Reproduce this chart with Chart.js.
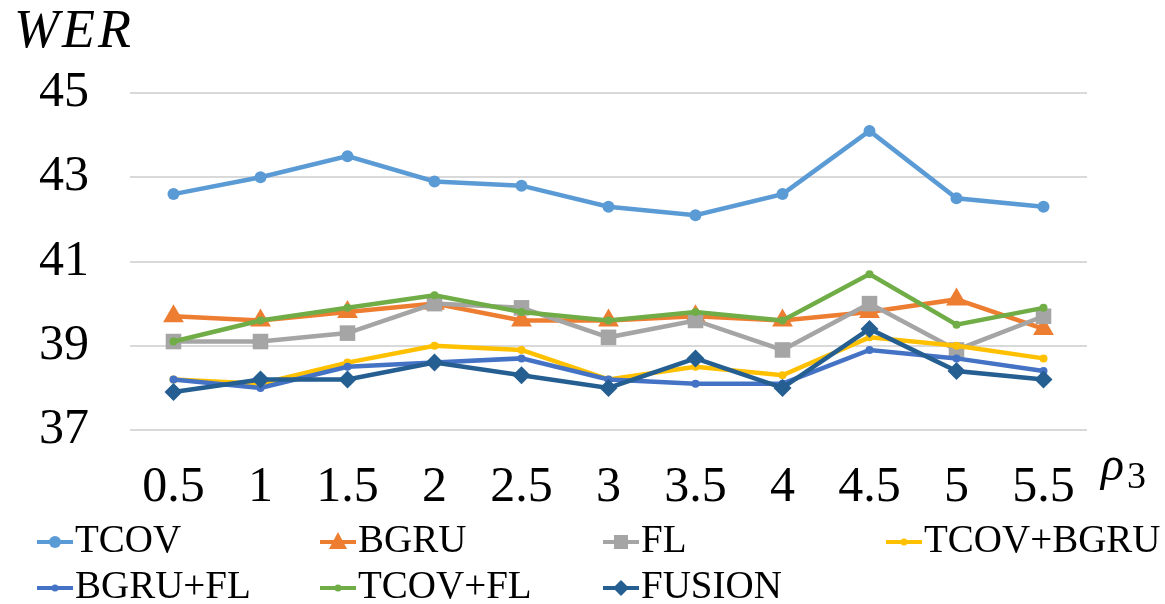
<!DOCTYPE html>
<html>
<head>
<meta charset="utf-8">
<script src="https://cdn.jsdelivr.net/npm/chart.js@4"></script>
<style>
  body { margin: 0; background: #fff; }
  #wrap { position: relative; width: 1165px; height: 604px; font-family: "Liberation Serif", "Times New Roman", serif; color: #000; }
  #wer { position: absolute; left: 14px; top: 2px; font-size: 54px; line-height: 1; font-style: italic; letter-spacing: 3px; }
  #rho { position: absolute; left: 1101px; top: 440px; font-size: 48px; line-height: 1; font-style: italic; }
  #rhoSub { position: absolute; left: 1127px; top: 456px; font-size: 38px; line-height: 1; }
  .item { position: absolute; display: flex; align-items: center; font-size: 39px; line-height: 1; white-space: nowrap; }
  .item svg { margin-top: 6px; margin-right: 2px; }
</style>
</head>
<body>
<div id="wrap">
  <canvas id="wer-chart" width="1165" height="604"></canvas>
  <div id="wer">WER</div>
  <div id="rho">ρ</div>
  <div id="rhoSub">3</div>
  <div id="legend"></div>
</div>
<script>
// x axis: rho_3 values
var rhoLabels = ['0.5', '1', '1.5', '2', '2.5', '3', '3.5', '4', '4.5', '5', '5.5'];

// WER per method
var tcov     = [42.6, 43.0, 43.5, 42.9, 42.8, 42.3, 42.1, 42.6, 44.1, 42.5, 42.3];
var bgru     = [39.7, 39.6, 39.8, 40.0, 39.6, 39.6, 39.7, 39.6, 39.8, 40.1, 39.4];
var fl       = [39.1, 39.1, 39.3, 40.0, 39.9, 39.2, 39.6, 38.9, 40.0, 38.9, 39.7];
var tcovBgru = [38.2, 38.1, 38.6, 39.0, 38.9, 38.2, 38.5, 38.3, 39.2, 39.0, 38.7];
var bgruFl   = [38.2, 38.0, 38.5, 38.6, 38.7, 38.2, 38.1, 38.1, 38.9, 38.7, 38.4];
var tcovFl   = [39.1, 39.6, 39.9, 40.2, 39.8, 39.6, 39.8, 39.6, 40.7, 39.5, 39.9];
var fusion   = [37.9, 38.2, 38.2, 38.6, 38.3, 38.0, 38.7, 38.0, 39.4, 38.4, 38.2];

var yTicks = [37, 39, 41, 43, 45];

var series = [
  { label: 'TCOV',      data: tcov,     color: '#5B9BD5', style: 'circle',   radius: 6 },
  { label: 'BGRU',      data: bgru,     color: '#ED7D31', style: 'triangle', radius: 12 },
  { label: 'FL',        data: fl,       color: '#A5A5A5', style: 'rect',     radius: 11 },
  { label: 'TCOV+BGRU', data: tcovBgru, color: '#FFC000', style: 'circle',   radius: 4 },
  { label: 'BGRU+FL',   data: bgruFl,   color: '#4472C4', style: 'circle',   radius: 4 },
  { label: 'TCOV+FL',   data: tcovFl,   color: '#70AD47', style: 'circle',   radius: 4 },
  { label: 'FUSION',    data: fusion,   color: '#255E91', style: 'rectRot',  radius: 9 }
];

var datasets = series.map(function(s, i) {
  return {
    label: s.label,
    data: s.data,
    borderColor: s.color,
    backgroundColor: s.color,
    borderWidth: 4.5,
    pointStyle: s.style,
    pointRadius: s.radius,
    pointBorderWidth: 0,
    tension: 0,
    order: series.length - i   // later series on top, like the original
  };
});

var ctx = document.getElementById('wer-chart').getContext('2d');
var werChart = new Chart(ctx, {
  type: 'line',
  data: { labels: rhoLabels, datasets: datasets },
  options: {
    responsive: false,
    animation: false,
    devicePixelRatio: 1,
    layout: { padding: { top: 93, right: 78, bottom: 94, left: 0 } },
    plugins: { legend: { display: false }, tooltip: { enabled: false } },
    scales: {
      x: {
        offset: true,
        grid: { display: false, offset: true },
        border: { display: false },
        ticks: { color: '#000', padding: 20, font: { family: 'Liberation Serif', size: 50 } },
        afterFit: function(scale) { scale.height = 80; }
      },
      y: {
        min: 37,
        max: 45,
        afterBuildTicks: function(scale) {
          scale.ticks = yTicks.map(function(v) { return { value: v }; });
        },
        grid: { color: '#d9d9d9', lineWidth: 2, drawTicks: false },
        border: { display: false },
        ticks: { color: '#000', padding: 41, font: { family: 'Liberation Serif', size: 50 } },
        afterFit: function(scale) { scale.width = 130; }
      }
    }
  }
});

//Legend laid out in a grid like the original
function markerSvg(s) {
  var c = s.color, shape = '';
  if (s.style === 'circle') {
    var r = s.radius > 5 ? 6 : 3.5;
    shape = '<circle cx="18" cy="10" r="' + r + '" fill="' + c + '"/>';
  } else if (s.style === 'triangle') {
    shape = '<polygon points="18,0 27,17 9,17" fill="' + c + '"/>';
  } else if (s.style === 'rect') {
    shape = '<rect x="11" y="3" width="14" height="14" fill="' + c + '"/>';
  } else {
    shape = '<polygon points="18,2 26,10 18,18 10,10" fill="' + c + '"/>';
  }
  return '<svg width="36" height="20"><line x1="0" y1="10" x2="36" y2="10" stroke="' + c + '" stroke-width="4"/>' + shape + '</svg>';
}

var legend = document.getElementById('legend');
series.forEach(function(s, i) {
  var col = i < 4 ? i : i - 4;
  var row = i < 4 ? 0 : 1;
  var div = document.createElement('div');
  div.className = 'item';
  div.style.left = (37 + col * 283) + 'px';
  div.style.top = (519 + row * 46) + 'px';
  div.innerHTML = markerSvg(s) + '<span>' + s.label + '</span>';
  legend.appendChild(div);
});
</script>
</body>
</html>
